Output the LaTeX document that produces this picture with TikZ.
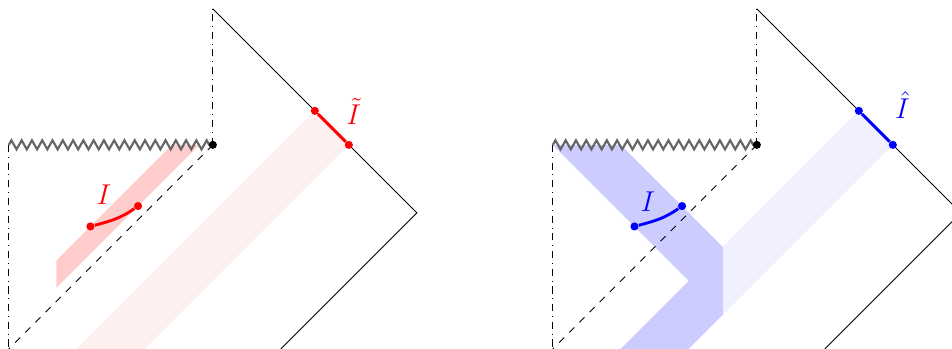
\documentclass[tikz,border=0pt]{standalone}
\usepackage{amsmath,amssymb}
\usepackage{xcolor}
\usetikzlibrary{decorations.pathmorphing}

\begin{document}
\begin{tikzpicture}[
  origin/.style={dash dot, line width=0.4pt},
  horizon/.style={dashed, line width=0.4pt},
  bdry/.style={line width=0.4pt},
  sing/.style={draw=black!60, line width=0.9pt, decorate,
               decoration={zigzag, segment length=4.3pt, amplitude=1.9pt}},
  pt/.style={circle, fill, inner sep=0pt, minimum size=3.4pt},
  seg/.style={very thick},
  lbl/.style={font=\large, anchor=base},
]
  \clip (-3.13,-3) rectangle (10.87,2.13);

  % left diagram
  \coordinate (bifL) at (0,0);
  \coordinate (topL) at (0,2);
  \coordinate (cornL) at (3,-1);
  \coordinate (botL) at (1,-3);
  \coordinate (singL) at (-3,0);
  \coordinate (llL) at (-3,-3);
  \fill[red!6] (-2,-3) -- (1.5,0.5) -- (2,0) -- (-1,-3) -- cycle;
  \fill[red!20] (-2.3,-2.1) -- (-0.2,0) -- (-0.6,0) -- (-2.3,-1.7) -- cycle;
  \draw[origin] (singL) -- (llL);
  \draw[origin] (bifL) -- (topL);
  \draw[bdry] (topL) -- (cornL) -- (botL);
  \draw[horizon] (bifL) -- (llL);
  \draw[sing] (singL) -- (bifL);
  \node[pt] (dotL) at (bifL) {};
  \node[pt, red] (ia) at (-1.8,-1.2) {};
  \node[pt, red] (ib) at (-1.1,-0.9) {};
  \draw[seg, red] (ia) to[out=15, in=215] (ib);
  \node[lbl, red] (iL) at (-1.6,-0.87) {$I$};
  \node[pt, red] (ta) at (1.5,0.5) {};
  \node[pt, red] (tb) at (2,0) {};
  \draw[seg, red] (ta) -- (tb);
  \node[lbl, red] (itL) at (2.07,0.3) {$\tilde{I}$};

  % right diagram
  \begin{scope}[xshift=8cm]
    \coordinate (bifR) at (0,0);
    \coordinate (topR) at (0,2);
    \coordinate (cornR) at (3,-1);
    \coordinate (botR) at (1,-3);
    \coordinate (singR) at (-3,0);
    \coordinate (llR) at (-3,-3);
    \fill[blue!6] (1.5,0.5) -- (2,0) -- (-0.5,-2.5) -- (-0.5,-1.5) -- cycle;
    \fill[blue!20] (-3,0) -- (-2,0) -- (-0.5,-1.5) -- (-0.5,-2.5)
      -- (-1,-3) -- (-2,-3) -- (-1,-2) -- cycle;
    \draw[origin] (singR) -- (llR);
    \draw[origin] (bifR) -- (topR);
    \draw[bdry] (topR) -- (cornR) -- (botR);
    \draw[horizon] (bifR) -- (llR);
    \draw[sing] (singR) -- (bifR);
    \node[pt] (dotR) at (bifR) {};
    \node[pt, blue] (ja) at (-1.8,-1.2) {};
    \node[pt, blue] (jb) at (-1.1,-0.9) {};
    \draw[seg, blue] (ja) to[out=15, in=215] (jb);
    \node[lbl, blue] (iR) at (-1.6,-0.98) {$I$};
    \node[pt, blue] (ha) at (1.5,0.5) {};
    \node[pt, blue] (hb) at (2,0) {};
    \draw[seg, blue] (ha) -- (hb);
    \node[lbl, blue] (ihR) at (2.14,0.39) {$\hat{I}$};
  \end{scope}
\end{tikzpicture}
\end{document}
